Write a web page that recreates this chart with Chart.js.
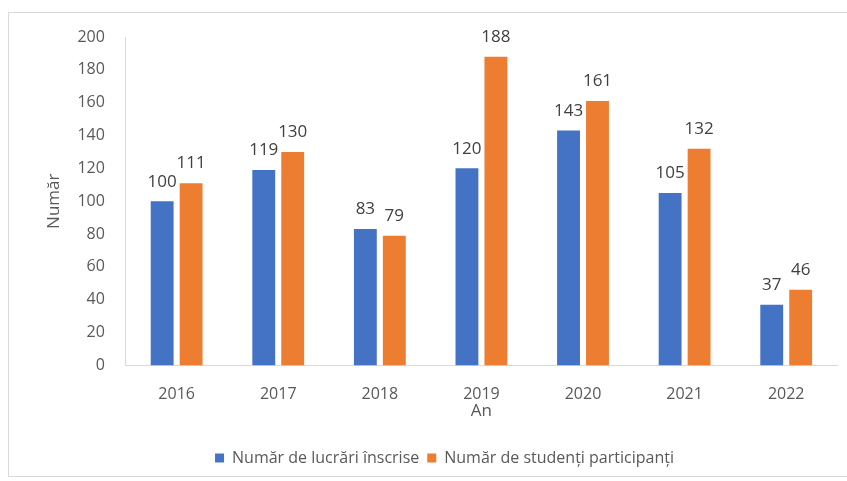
<!DOCTYPE html>
<html>
<head>
<meta charset="utf-8">
<style>
  body { margin: 0; background: #fff; }
  #frame { position: absolute; left: 8px; top: 12px; width: 850px; height: 465px; border: 1px solid #d9d9d9; box-sizing: border-box; }
  #wrap { position: absolute; left: 0; top: 0; width: 847px; height: 481px; }
</style>
</head>
<body>
<div id="frame"></div>
<div id="wrap"><canvas id="grafic"></canvas></div>
<script src="https://cdn.jsdelivr.net/npm/chart.js"></script>
<script>
  const ani = ['2016', '2017', '2018', '2019', '2020', '2021', '2022'];
  const lucrari = [100, 119, 83, 120, 143, 105, 37];
  const studenti = [111, 130, 79, 188, 161, 132, 46];
  const yTicks = [0, 20, 40, 60, 80, 100, 120, 140, 160, 180, 200];

  const font = '"Open Sans", sans-serif';

  // etichete cu valori deasupra barelor
  const eticheteValori = {
    id: 'eticheteValori',
    afterDatasetsDraw(chart) {
      const ctx = chart.ctx;
      ctx.save();
      ctx.font = '17px ' + font;
      ctx.fillStyle = '#404040';
      ctx.textAlign = 'center';
      ctx.textBaseline = 'bottom';
      chart.data.datasets.forEach((ds, i) => {
        chart.getDatasetMeta(i).data.forEach((bar, j) => {
          ctx.fillText(ds.data[j], bar.x, bar.y - 11);
        });
      });
      ctx.restore();
    }
  };

  // legenda ceva mai la dreapta, ca in original
  const mutaLegenda = {
    id: 'mutaLegenda',
    afterLayout(chart) {
      chart.legend.left += 20;
      chart.legend.right += 20;
    }
  };

  new Chart(document.getElementById('grafic'), {
    type: 'bar',
    data: {
      labels: ani,
      datasets: [
        { label: 'Număr de lucrări înscrise', data: lucrari, backgroundColor: '#4472C4' },
        { label: 'Număr de studenți participanți', data: studenti, backgroundColor: '#ED7D31' }
      ]
    },
    options: {
      responsive: true,
      maintainAspectRatio: false,
      animation: false,
      categoryPercentage: 0.57,
      barPercentage: 0.79,
      layout: { padding: { left: 12, right: 10, top: 37, bottom: 5 } },
      plugins: {
        legend: {
          position: 'bottom',
          labels: { boxWidth: 9, boxHeight: 9, color: '#595959', font: { size: 16, family: font }, padding: 8 }
        },
        tooltip: { enabled: false }
      },
      scales: {
        x: {
          grid: { display: false },
          border: { color: '#d9d9d9' },
          ticks: { color: '#595959', font: { size: 16, family: font }, padding: 11 },
          title: { display: true, text: 'An', color: '#595959', font: { size: 17, family: font }, padding: { top: -14, bottom: 21 } }
        },
        y: {
          min: 0,
          max: 200,
          afterBuildTicks(axis) { axis.ticks = yTicks.map(v => ({ value: v })); },
          grid: { display: false },
          border: { color: '#d9d9d9' },
          ticks: { color: '#595959', font: { size: 16, family: font }, padding: 13 },
          title: { display: true, text: 'Număr', color: '#595959', font: { size: 17, family: font }, padding: { top: 32, bottom: 0 } }
        }
      }
    },
    plugins: [eticheteValori, mutaLegenda]
  });
</script>
</body>
</html>
